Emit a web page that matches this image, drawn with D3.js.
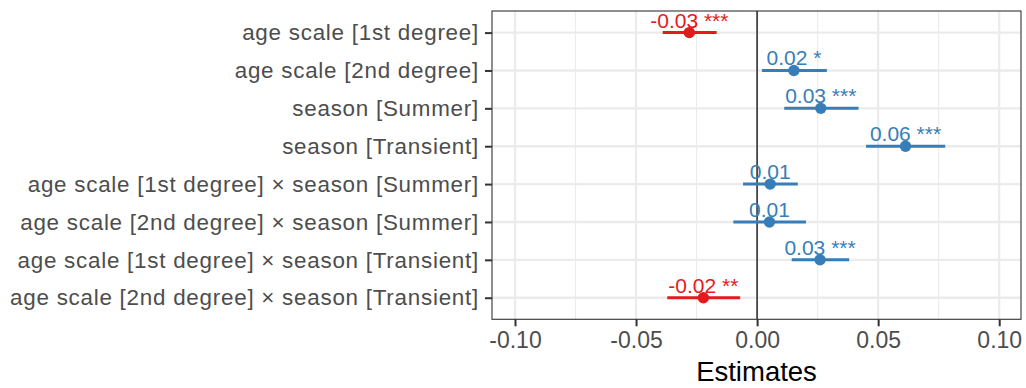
<!DOCTYPE html>
<html>
<head>
<meta charset="utf-8">
<script src="https://cdn.jsdelivr.net/npm/d3@7"></script>
<style>
  html, body { margin: 0; padding: 0; background: #fff; }
  svg { display: block; font-family: "Liberation Sans", Arial, Helvetica, sans-serif; }
</style>
</head>
<body>
<svg id="chart" width="1026" height="388"></svg>
<script>
// Model terms, top to bottom
const terms = [
  "age scale [1st degree]",
  "age scale [2nd degree]",
  "season [Summer]",
  "season [Transient]",
  "age scale [1st degree] × season [Summer]",
  "age scale [2nd degree] × season [Summer]",
  "age scale [1st degree] × season [Transient]",
  "age scale [2nd degree] × season [Transient]"
];
// Point estimates and confidence interval bounds
const estimates = [-0.0280, 0.0152, 0.0263, 0.0613, 0.0054, 0.0051, 0.0260, -0.0222];
const ciLow     = [-0.0390, 0.0020, 0.0112, 0.0450, -0.0058, -0.0098, 0.0143, -0.0371];
const ciHigh    = [-0.0167, 0.0288, 0.0419, 0.0777, 0.0168, 0.0202, 0.0380, -0.0070];
// Significance stars
const stars     = ["***", "*", "***", "***", "", "", "***", "**"];
// X axis ticks
const xTicks      = [-0.10, -0.05, 0.00, 0.05, 0.10];
const xMinorTicks = [-0.075, -0.025, 0.025, 0.075];
const xTitle = "Estimates";

const colPos = "#377EB8", colNeg = "#E41A1C";
const panel = { left: 492, right: 1021, top: 11, bottom: 319.3 };

// Plain hyphen for negative numbers
const locale = d3.formatLocale({ decimal: ".", thousands: ",", grouping: [3], currency: ["", ""], minus: "-" });
const fmt = locale.format(".2f");

const svg = d3.select("#chart");

const x = d3.scaleLinear().domain([-0.1095, 0.109]).range([panel.left, panel.right]);
const y = d3.scalePoint().domain(terms).range([panel.top, panel.bottom]).padding(0.57);

const rows = terms.map((t, i) => ({
  term: t, est: estimates[i], lo: ciLow[i], hi: ciHigh[i], stars: stars[i]
}));
const colorOf = d => d.est >= 0 ? colPos : colNeg;

// Panel background
svg.append("rect")
  .attr("x", panel.left).attr("y", panel.top)
  .attr("width", panel.right - panel.left).attr("height", panel.bottom - panel.top)
  .attr("fill", "#fff");

// Grid lines
const grid = svg.append("g");
grid.selectAll("line.minor").data(xMinorTicks).join("line")
  .attr("x1", d => x(d)).attr("x2", d => x(d))
  .attr("y1", panel.top).attr("y2", panel.bottom)
  .attr("stroke", "#EBEBEB").attr("stroke-width", 1.1);
grid.selectAll("line.majorx").data(xTicks).join("line")
  .attr("x1", d => x(d)).attr("x2", d => x(d))
  .attr("y1", panel.top).attr("y2", panel.bottom)
  .attr("stroke", "#EBEBEB").attr("stroke-width", 2.2);
grid.selectAll("line.majory").data(terms).join("line")
  .attr("x1", panel.left).attr("x2", panel.right)
  .attr("y1", d => y(d)).attr("y2", d => y(d))
  .attr("stroke", "#EBEBEB").attr("stroke-width", 2.4);

// Zero reference line
svg.append("line")
  .attr("x1", x(0)).attr("x2", x(0))
  .attr("y1", panel.top).attr("y2", panel.bottom)
  .attr("stroke", "#333").attr("stroke-width", 1.6);

// Confidence intervals
svg.append("g").selectAll("line").data(rows).join("line")
  .attr("x1", d => x(d.lo)).attr("x2", d => x(d.hi))
  .attr("y1", d => y(d.term)).attr("y2", d => y(d.term))
  .attr("stroke", colorOf).attr("stroke-width", 3);

// Estimates
svg.append("g").selectAll("circle").data(rows).join("circle")
  .attr("cx", d => x(d.est)).attr("cy", d => y(d.term))
  .attr("r", 5.7).attr("fill", colorOf);

// Value labels
svg.append("g").selectAll("text").data(rows).join("text")
  .attr("x", d => x(d.est)).attr("y", d => y(d.term) - 5)
  .attr("text-anchor", "middle")
  .attr("font-size", 21)
  .attr("fill", colorOf)
  .text(d => fmt(d.est) + (d.stars ? " " + d.stars : ""));

// Panel border
svg.append("rect")
  .attr("x", panel.left).attr("y", panel.top)
  .attr("width", panel.right - panel.left).attr("height", panel.bottom - panel.top)
  .attr("fill", "none").attr("stroke", "#333").attr("stroke-width", 1.1);

// Y axis
const yAxis = svg.append("g")
  .attr("transform", `translate(${panel.left},0)`)
  .call(d3.axisLeft(y).tickSize(7).tickPadding(6));
yAxis.select(".domain").remove();
yAxis.selectAll(".tick line").attr("stroke", "#333").attr("stroke-width", 2);
yAxis.selectAll(".tick text")
  .attr("fill", "#4D4D4D").attr("font-size", 22.4)
  .attr("letter-spacing", 0.75)
  .attr("font-family", "Liberation Sans, Arial, sans-serif");

// X axis
const xAxis = svg.append("g")
  .attr("transform", `translate(0,${panel.bottom})`)
  .call(d3.axisBottom(x).tickValues(xTicks).tickFormat(fmt).tickSize(7).tickPadding(5));
xAxis.select(".domain").remove();
xAxis.selectAll(".tick line").attr("stroke", "#333").attr("stroke-width", 2);
xAxis.selectAll(".tick text")
  .attr("fill", "#4D4D4D").attr("font-size", 23)
  .attr("font-family", "Liberation Sans, Arial, sans-serif");

// X axis title
svg.append("text")
  .attr("x", (panel.left + panel.right) / 2).attr("y", 381)
  .attr("text-anchor", "middle")
  .attr("font-size", 27.5)
  .attr("fill", "#000")
  .text(xTitle);
</script>
</body>
</html>
